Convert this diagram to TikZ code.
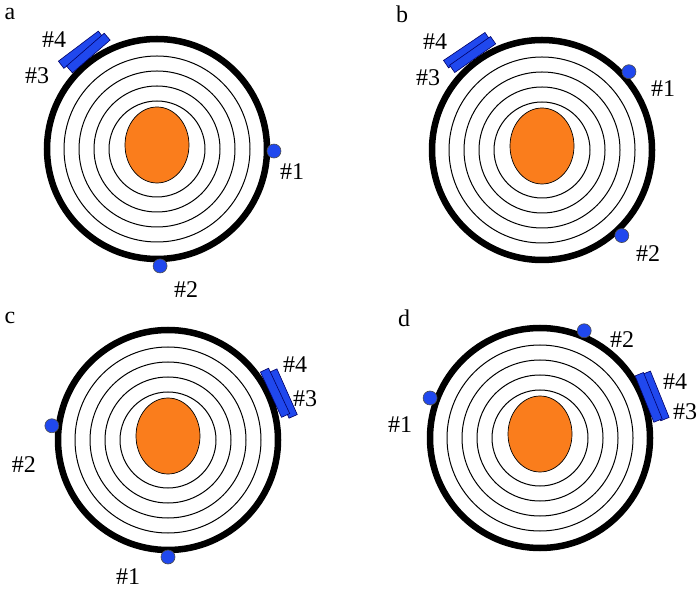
\documentclass[tikz,border=0pt]{standalone}
\usepackage{fontspec}
\setmainfont{Liberation Serif}
\usetikzlibrary{calc, positioning}
\definecolor{coreorange}{RGB}{250,125,28}
\definecolor{sensorblue}{RGB}{32,72,238}

\tikzset{
  ring/.style={draw, line width=1pt},
  shell/.style={draw, line width=6.5pt},
  core/.style={draw, fill=coreorange, line width=0.7pt},
  sensor/.style={circle, draw=black!70, fill=sensorblue, line width=0.6pt,
                 inner sep=0pt, minimum size=14pt},
  probe/.style={rectangle, draw=blue!40!black, fill=sensorblue, line width=0.6pt,
                inner sep=0pt, minimum width=50pt, minimum height=9pt},
  tag/.style={inner sep=0pt, font=\fontsize{24}{26}\selectfont}
}

\begin{document}
\begin{tikzpicture}[x=1pt, y=1pt]
    \useasboundingbox (0,0) rectangle (700,589);

    % the four discs
    \foreach \cx/\cy/\p in {157/440/a, 542/439/b, 168/149/c, 540/151/d}{
        \coordinate (\p) at (\cx,\cy);
        \foreach \r in {48,63,78,93}
            \draw[ring] (\p) circle (\r);
        \draw[shell] (\p) circle (110);
        \draw[core] ($(\p)+(0,4)$) ellipse (32 and 38);
    }

    % panel a
    \node[probe, rotate=37] (a4) at ($(a)+(127.4:125)$) {};
    \node[probe, rotate=41] (a3) at ($(a)+(125.6:118)$) {};
    \node[sensor] (a1) at ($(a)+(-1:117)$) {};
    \node[sensor] (a2) at ($(a)+(-88.5:117)$) {};
    \node[tag] (la) at (10,575) {a};
    \node[tag] (a4l) at (54,549) {\#4};
    \node[tag] (a3l) at (37,513) {\#3};
    \node[tag] (a1l) at (292,417) {\#1};
    \node[tag] (a2l) at (186,299) {\#2};

    % panel b
    \node[probe, rotate=34] (b4) at ($(b)+(127:125)$) {};
    \node[probe, rotate=35] (b3) at ($(b)+(126:118)$) {};
    \node[sensor] (b1) at ($(b)+(42:117)$) {};
    \node[sensor] (b2) at ($(b)+(-47:117)$) {};
    \node[tag] (lb) at (402,575) {b};
    \node[tag] (b4l) at (435,547) {\#4};
    \node[tag] (b3l) at (428,511) {\#3};
    \node[tag] (b1l) at (663,500) {\#1};
    \node[tag] (b2l) at (648,335) {\#2};

    % panel c
    \node[probe, rotate=-66] (c4) at ($(c)+(22:124)$) {};
    \node[probe, rotate=-65] (c3) at ($(c)+(23.8:117)$) {};
    \node[sensor] (c1) at ($(c)+(-90:117)$) {};
    \node[sensor] (c2) at ($(c)+(173:117)$) {};
    \node[tag] (lc) at (10,271) {c};
    \node[tag] (c4l) at (295,224) {\#4};
    \node[tag] (c3l) at (305,190) {\#3};
    \node[tag] (c1l) at (128,12) {\#1};
    \node[tag] (c2l) at (24,124) {\#2};

    % panel d
    \node[probe, rotate=-68] (d4) at ($(d)+(20:123)$) {};
    \node[probe, rotate=-68] (d3) at ($(d)+(20.5:116)$) {};
    \node[sensor] (d1) at ($(d)+(160:117)$) {};
    \node[sensor] (d2) at ($(d)+(67.6:116)$) {};
    \node[tag] (ld) at (404,271) {d};
    \node[tag] (d4l) at (675,207) {\#4};
    \node[tag] (d3l) at (685,177) {\#3};
    \node[tag] (d1l) at (400,164) {\#1};
    \node[tag] (d2l) at (622,249) {\#2};
\end{tikzpicture}
\end{document}
